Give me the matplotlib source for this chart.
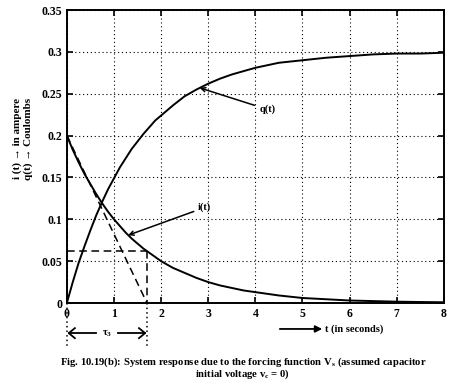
import matplotlib
matplotlib.use("Agg")
import matplotlib.pyplot as plt

# values
t = [0, 0.125, 0.25, 0.375, 0.5, 0.625, 0.75, 0.875, 1.0, 1.125, 1.25,
     1.375, 1.5, 1.625, 1.75, 1.875, 2.0, 2.25, 2.5, 2.75, 3.0, 3.25, 3.5,
     3.75, 4.0, 4.5, 5.0, 5.5, 6.0, 6.5, 7.0, 7.5, 8.0]
i_t = [0.2, 0.183, 0.168, 0.154, 0.142, 0.130, 0.119, 0.109, 0.100, 0.092,
       0.084, 0.077, 0.071, 0.065, 0.060, 0.055, 0.050, 0.042, 0.036, 0.030,
       0.025, 0.021, 0.018, 0.015, 0.013, 0.009, 0.006, 0.0045, 0.003,
       0.0023, 0.0016, 0.0012, 0.0009]
q_t = [0, 0.025, 0.048, 0.068, 0.087, 0.105, 0.121, 0.136, 0.149, 0.162,
       0.173, 0.184, 0.193, 0.202, 0.210, 0.218, 0.224, 0.236, 0.247, 0.255,
       0.262, 0.268, 0.273, 0.277, 0.281, 0.287, 0.290, 0.293, 0.295, 0.297,
       0.298, 0.298, 0.299]
tau = 1.7
i_tau = 0.062
xticks = [0, 1, 2, 3, 4, 5, 6, 7, 8]
yticks = [0, 0.05, 0.1, 0.15, 0.2, 0.25, 0.3, 0.35]
ytick_labels = ["0", "0.05", "0.1", "0.15", "0.2", "0.25", "0.3", "0.35"]

plt.rcParams['font.family'] = ['Liberation Serif', 'DejaVu Serif']
plt.rcParams['font.weight'] = 'bold'
plt.rcParams['mathtext.default'] = 'regular'

fig = plt.figure(figsize=(4.58, 3.8), dpi=100)
ax = fig.add_axes([0.146, 0.2026, 0.823, 0.771])

ax.plot(t, q_t, color='black', lw=1.4)
ax.plot(t, i_t, color='black', lw=1.4)

# tangent and tau construction
dash = (0, (5, 3))
ax.plot([0, tau], [0.2, 0], color='black', lw=1.1, ls=dash)
ax.plot([0, tau], [i_tau, i_tau], color='black', lw=1.1, ls=dash)
ax.plot([tau, tau], [i_tau, 0], color='black', lw=1.1, ls=dash)

ax.set_xlim(0, 8)
ax.set_ylim(0, 0.35)
ax.set_xticks(xticks)
ax.set_yticks(yticks)
ax.set_yticklabels(ytick_labels)
ax.tick_params(direction='in', top=True, right=True, labelsize=8.5,
               length=4, width=1.2)
ax.grid(True, color='black', ls=(0, (1, 2.5)), lw=0.8)
for s in ax.spines.values():
    s.set_linewidth(1.4)

ax.annotate('q(t)', xy=(2.82, 0.257), xytext=(4.1, 0.231), fontsize=7.5,
            fontweight='bold', va='center', ha='left',
            arrowprops=dict(arrowstyle='->', color='black', lw=1.1,
                            shrinkA=2, shrinkB=0))
ax.annotate('i(t)', xy=(1.3, 0.081), xytext=(2.78, 0.114), fontsize=7.5,
            fontweight='bold', va='center', ha='left',
            arrowprops=dict(arrowstyle='->', color='black', lw=1.1,
                            shrinkA=1, shrinkB=0))

# markers below the axis
ax.plot([0, 0], [0, -0.053], color='black', lw=1.1, ls=(0, (1, 2)), clip_on=False)
ax.plot([tau, tau], [0, -0.053], color='black', lw=1.1, ls=(0, (1, 2)), clip_on=False)

# double arrow for tau, drawn as plain lines
y_arr = -0.036
hx, hy = 0.13, 0.006
ax.plot([0.04, 0.62], [y_arr, y_arr], color='black', lw=1.3, clip_on=False)
ax.plot([1.08, tau - 0.04], [y_arr, y_arr], color='black', lw=1.3, clip_on=False)
ax.plot([0.04 + hx, 0.04, 0.04 + hx], [y_arr + hy, y_arr, y_arr - hy],
        color='black', lw=1.3, clip_on=False)
ax.plot([tau - 0.04 - hx, tau - 0.04, tau - 0.04 - hx],
        [y_arr + hy, y_arr, y_arr - hy], color='black', lw=1.3, clip_on=False)
ax.text(0.85, y_arr - 0.003, '\u03c4$_3$', fontsize=7.5, ha='center',
        va='baseline', fontweight='bold')

ax.annotate('', xy=(5.42, -0.031), xytext=(4.52, -0.031),
            arrowprops=dict(arrowstyle='-|>', color='black', lw=1.3,
                            shrinkA=0, shrinkB=0), annotation_clip=False)
ax.text(5.47, -0.031, 't (in seconds)', fontsize=7.5, va='center', ha='left',
        fontweight='bold')

ax.set_ylabel('i (t) \u2192 in ampere\nq(t) \u2192 Coulombs',
              fontsize=8, fontweight='bold')
ax.yaxis.set_label_coords(-0.09, 0.56)

fig.text(0.53, 0.047, 'Fig. 10.19(b): System response due to the forcing function V$_s$ (assumed capacitor',
         fontsize=7.7, ha='center', va='center', fontweight='bold')
fig.text(0.53, 0.014, 'initial voltage v$_c$ = 0)',
         fontsize=7.7, ha='center', va='center', fontweight='bold')

fig.savefig('out.png', dpi=100)
